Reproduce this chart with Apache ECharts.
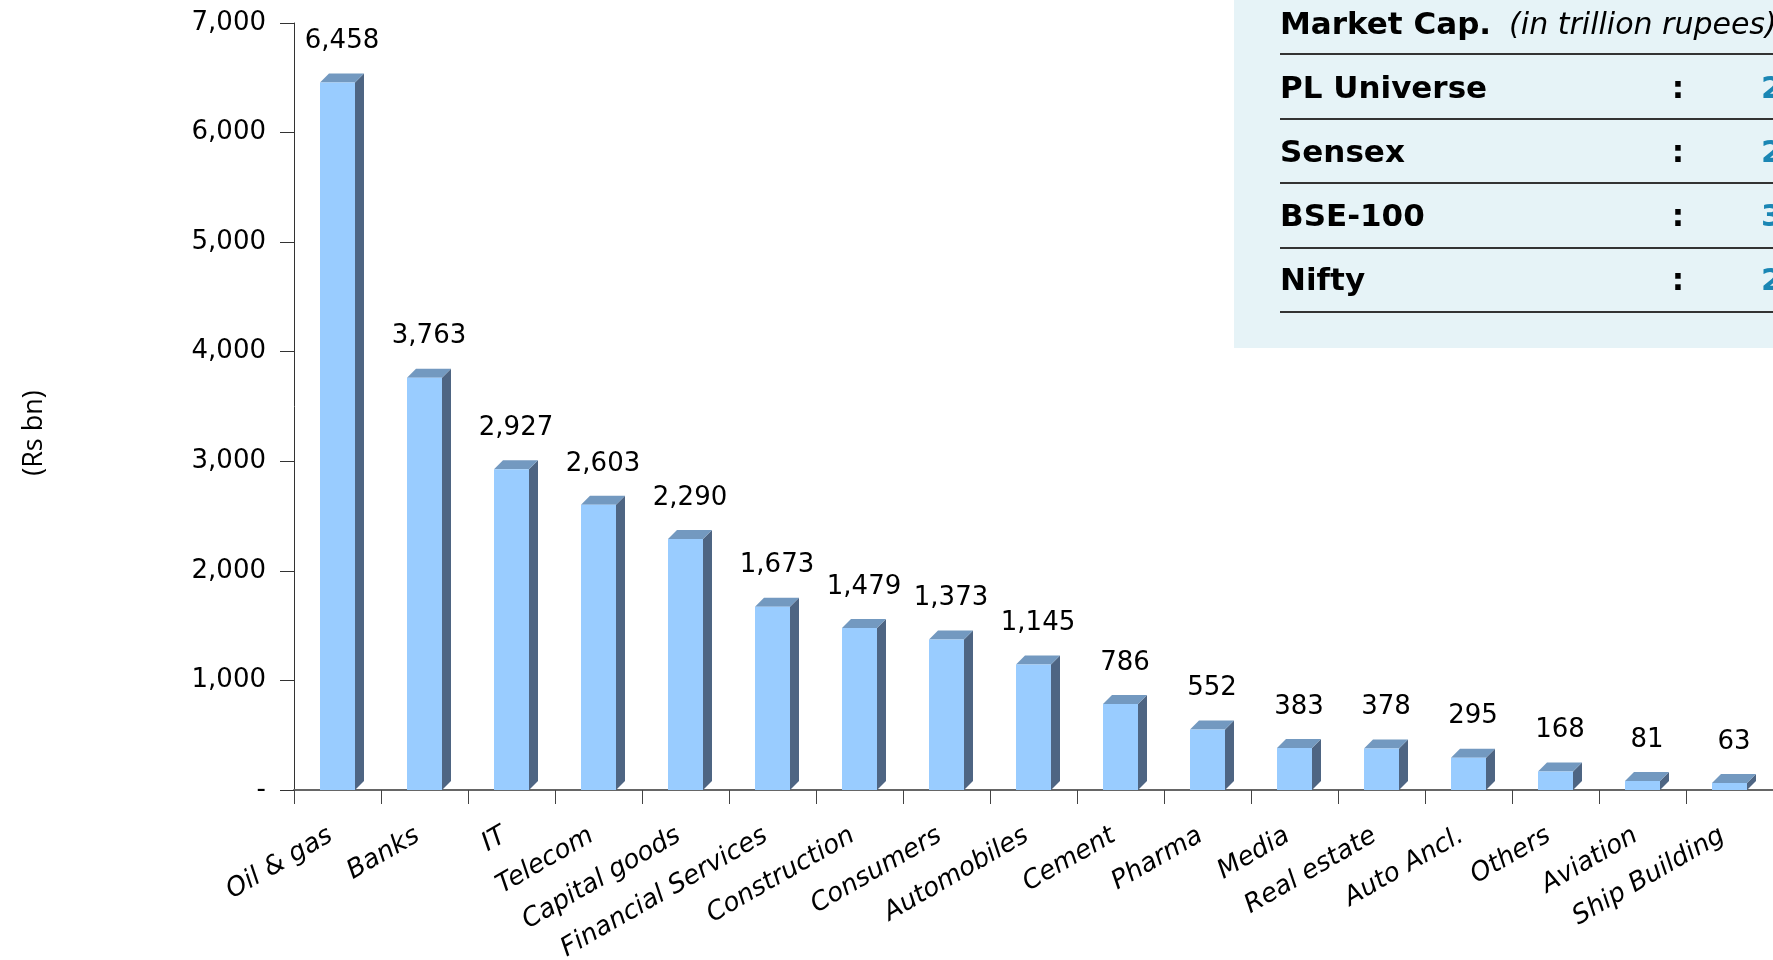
<!DOCTYPE html>
<html>
<head>
<meta charset="utf-8">
<script src="https://cdn.jsdelivr.net/npm/echarts@6/dist/echarts.min.js"></script>
<style>
html,body{margin:0;padding:0;background:#fff;}
#chart{width:1773px;height:960px;}
</style>
</head>
<body>
<div id="chart"></div>
<script>
const categories = ['Oil & gas','Banks','IT','Telecom','Capital goods','Financial Services','Construction','Consumers','Automobiles','Cement','Pharma','Media','Real estate','Auto Ancl.','Others','Aviation','Ship Building'];
const values = [6458,3763,2927,2603,2290,1673,1479,1373,1145,786,552,383,378,295,168,81,63];
const yMin = 0, yMax = 7000, yInterval = 1000;
const tableTitle = 'Market Cap.';
const tableSubtitle = '(in trillion rupees)';
const tableRows = ['PL Universe','Sensex','BSE-100','Nifty'];
const tableValues = ['2','2','3','2'];

const FONT = '"DejaVu Sans", sans-serif';
const fmt = v => v === 0 ? '-' : v.toLocaleString('en-US');

const chart = echarts.init(document.getElementById('chart'));

function renderItem(params, api) {
  const x = api.value(0), v = api.value(1);
  const top = api.coord([x, v]);
  const base = api.coord([x, 0]);
  const bw = 35, d = 9;
  const xl = top[0] - bw / 2, xr = top[0] + bw / 2;
  return {
    type: 'group',
    children: [
      {type: 'polygon', shape: {points: [[xr, top[1]], [xr + d, top[1] - d], [xr + d, base[1] - d], [xr, base[1]]]}, style: {fill: '#4E6583'}},
      {type: 'polygon', shape: {points: [[xl, top[1]], [xl + d, top[1] - d], [xr + d, top[1] - d], [xr, top[1]]]}, style: {fill: '#7399C0'}},
      {type: 'rect', shape: {x: xl, y: top[1], width: bw, height: base[1] - top[1]}, style: {fill: '#99CCFF'}},
      {type: 'text', style: {text: fmt(v), x: top[0] + d / 2, y: top[1] - 41, align: 'center', verticalAlign: 'middle', fontSize: 26, fill: '#000', fontFamily: FONT}}
    ]
  };
}

const rowStep = 64;
const graphics = [
  {type: 'rect', left: 1234, top: 0, shape: {x: 0, y: 0, width: 540, height: 348}, style: {fill: '#E6F3F7'}, z: 0},
  {type: 'text', x: 34, y: 433, rotation: Math.PI / 2, style: {text: '(Rs bn)', fontSize: 27, fontFamily: '"Open Sans", sans-serif', fill: '#000', align: 'center', verticalAlign: 'middle'}},
  {type: 'text', x: 1280, y: 26, style: {text: '{b|' + tableTitle + '}{i|' + tableSubtitle + '}', verticalAlign: 'middle', rich: {
    b: {fontSize: 31, fontWeight: 'bold', fontFamily: FONT, fill: '#000'},
    i: {fontSize: 30, fontStyle: 'italic', fontFamily: FONT, fill: '#000', padding: [0, 0, 0, 18]}
  }}, z: 2}
];
const lineYs = [54, 119, 183, 248, 312];
lineYs.forEach(y => graphics.push({type: 'line', shape: {x1: 1280, y1: y, x2: 1773, y2: y}, style: {stroke: '#333', lineWidth: 2}, z: 2}));
tableRows.forEach((r, i) => {
  const y = 90 + i * rowStep;
  graphics.push({type: 'text', x: 1280, y: y, style: {text: r, fontSize: 31, fontWeight: 'bold', fontFamily: FONT, fill: '#000', verticalAlign: 'middle'}, z: 2});
  graphics.push({type: 'text', x: 1678, y: y, style: {text: ':', fontSize: 31, fontWeight: 'bold', fontFamily: FONT, fill: '#000', align: 'center', verticalAlign: 'middle'}, z: 2});
  graphics.push({type: 'text', x: 1761, y: y, style: {text: tableValues[i], fontSize: 31, fontWeight: 'bold', fontFamily: FONT, fill: '#1A86B4', verticalAlign: 'middle'}, z: 2});
});

chart.setOption({
  animation: false,
  backgroundColor: '#fff',
  grid: {left: 294, right: 0, top: 23, bottom: 170, containLabel: false, outerBoundsMode: 'none'},
  xAxis: {
    type: 'category',
    data: categories,
    axisLine: {lineStyle: {color: '#666', width: 2}},
    axisTick: {show: true, length: 14, lineStyle: {color: '#444', width: 1}},
    axisLabel: {rotate: 30, fontSize: 26, fontStyle: 'italic', fontFamily: FONT, color: '#000', margin: 40, padding: [0, 8, 0, 0], interval: 0}
  },
  yAxis: {
    type: 'value',
    min: yMin, max: yMax, interval: yInterval,
    splitLine: {show: false},
    axisLine: {show: true, lineStyle: {color: '#333', width: 1}},
    axisTick: {show: true, length: 14, lineStyle: {color: '#333'}},
    axisLabel: {fontSize: 26, fontFamily: FONT, color: '#000', margin: 28, formatter: fmt}
  },
  series: [{
    type: 'custom',
    renderItem: renderItem,
    clip: false,
    encode: {x: 0, y: 1},
    data: values.map((v, i) => [i, v])
  }],
  graphic: graphics
});
</script>
</body>
</html>
